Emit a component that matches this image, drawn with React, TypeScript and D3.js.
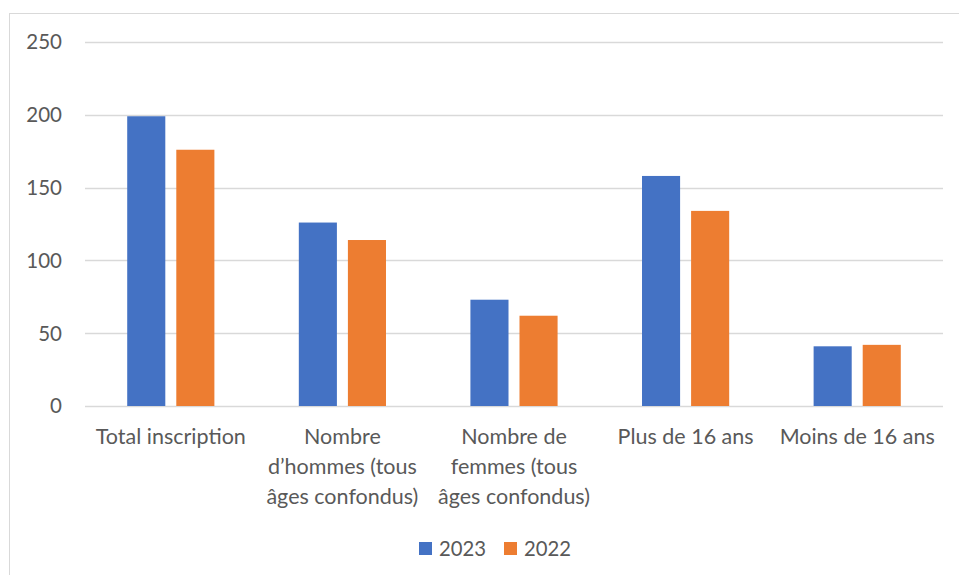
import React, { useEffect, useRef } from 'react';
import * as d3 from 'd3';

const categories = [
  'Total inscription',
  'Nombre d’hommes (tous âges confondus)',
  'Nombre de femmes (tous âges confondus)',
  'Plus de 16 ans',
  'Moins de 16 ans',
];
// how each category label wraps under the axis
const categoryLines = [
  ['Total inscription'],
  ['Nombre', 'd’hommes (tous', 'âges confondus)'],
  ['Nombre de', 'femmes (tous', 'âges confondus)'],
  ['Plus de 16 ans'],
  ['Moins de 16 ans'],
];
const seriesNames = ['2023', '2022'];
const values2023 = [199, 126, 73, 158, 41];
const values2022 = [176, 114, 62, 134, 42];
const yTicks = [0, 50, 100, 150, 200, 250];
const colors = ['#4472C4', '#ED7D31'];

const App = () => {
  const ref = useRef<SVGSVGElement>(null);

  useEffect(() => {
    const width = 959;
    const height = 575;
    const margin = { top: 42, right: 16, bottom: 169, left: 85 };
    const font = 'Lato, Calibri, sans-serif';
    const textColor = '#595959';

    const svg = d3.select(ref.current);
    svg.selectAll('*').remove();

    svg.append('rect')
      .attr('width', width)
      .attr('height', height)
      .attr('fill', '#fff');

    // chart frame
    svg.append('rect')
      .attr('x', 9.5)
      .attr('y', 13.5)
      .attr('width', width + 20)
      .attr('height', height + 20)
      .attr('fill', 'none')
      .attr('stroke', '#d9d9d9')
      .attr('stroke-width', 1);

    const x0 = d3.scaleBand()
      .domain(categories)
      .range([margin.left, width - margin.right])
      .paddingInner(0.492)
      .paddingOuter(0.246);

    const x1 = d3.scaleBand()
      .domain(seriesNames)
      .range([0, x0.bandwidth()])
      .paddingInner(0.224);

    const y = d3.scaleLinear()
      .domain([0, 250])
      .range([height - margin.bottom, margin.top]);

    // gridlines
    svg.append('g')
      .selectAll('line')
      .data(yTicks)
      .enter().append('line')
      .attr('x1', margin.left)
      .attr('x2', width - margin.right)
      .attr('y1', d => Math.round(y(d)) + 0.5)
      .attr('y2', d => Math.round(y(d)) + 0.5)
      .attr('stroke', '#d9d9d9')
      .attr('stroke-width', 1.3);

    // y labels
    svg.append('g')
      .selectAll('text')
      .data(yTicks)
      .enter().append('text')
      .attr('x', 62)
      .attr('y', d => y(d))
      .attr('dy', '0.36em')
      .attr('text-anchor', 'end')
      .style('font-family', font)
      .style('font-size', '20.5px')
      .style('fill', textColor)
      .text(d => d);

    const seriesValues = [values2023, values2022];
    seriesNames.forEach((s, si) => {
      svg.append('g')
        .selectAll('rect')
        .data(categories)
        .enter().append('rect')
        .attr('x', d => (x0(d) as number) + (x1(s) as number))
        .attr('width', x1.bandwidth())
        .attr('y', (d, i) => y(seriesValues[si][i]))
        .attr('height', (d, i) => y(0) - y(seriesValues[si][i]))
        .attr('fill', colors[si]);
    });

    // category labels
    const labels = svg.append('g')
      .selectAll('text')
      .data(categories)
      .enter().append('text')
      .attr('text-anchor', 'middle')
      .style('font-family', font)
      .style('font-size', '21.5px')
      .style('fill', textColor);
    labels.each(function (d, i) {
      const cx = (x0(d) as number) + x0.bandwidth() / 2;
      d3.select(this).selectAll('tspan')
        .data(categoryLines[i])
        .enter().append('tspan')
        .attr('x', cx)
        .attr('y', (l, j) => 444 + j * 30)
        .text(l => l);
    });

    // legend
    const legendX = [419, 504];
    const legend = svg.append('g');
    seriesNames.forEach((s, si) => {
      legend.append('rect')
        .attr('x', legendX[si])
        .attr('y', 542)
        .attr('width', 13)
        .attr('height', 13)
        .attr('fill', colors[si]);
      legend.append('text')
        .attr('x', legendX[si] + 20)
        .attr('y', 556)
        .style('font-family', font)
        .style('font-size', '20.3px')
        .style('fill', textColor)
        .text(s);
    });
  }, []);

  return (
    <div style={{ position: 'absolute', left: 0, top: 0 }}>
      <svg ref={ref} width={959} height={575} style={{ display: 'block' }} />
    </div>
  );
};

export default App;
